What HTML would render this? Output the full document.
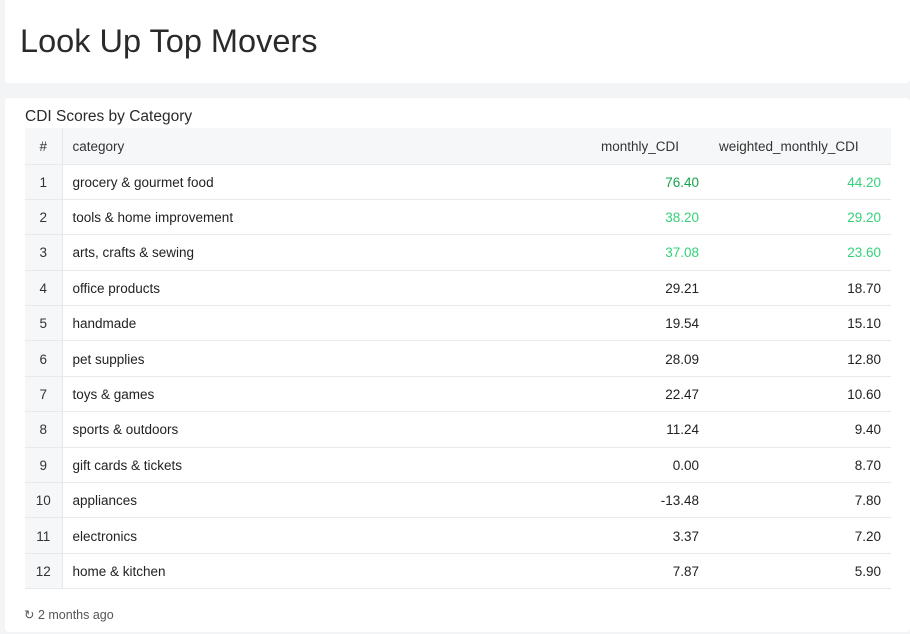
<!DOCTYPE html>
<html><head><meta charset="utf-8"><style>
*{margin:0;padding:0;box-sizing:border-box}
body{width:910px;height:634px;background:#f3f4f6;font-family:"Liberation Sans",sans-serif;color:#222;position:relative;overflow:hidden}
.c1{position:absolute;left:5px;top:0;width:905px;height:83px;background:#fff;border-radius:0 0 4px 4px}
.c1 h1{position:absolute;left:15px;top:23px;font-size:32.5px;font-weight:400;color:#2a2a2a}
.c2{position:absolute;left:5px;top:98px;width:905px;height:534px;background:#fff;border-radius:4px}
.sub{position:absolute;left:20px;top:10px;font-size:15.5px;color:#2a2a2a}
table{position:absolute;left:20px;top:30px;width:866px;border-collapse:collapse;font-size:13.5px;table-layout:fixed}
th,td{height:35.4px;border-bottom:1px solid #e8e9ec;padding:1px 10px 0;text-align:left;font-weight:400;white-space:nowrap}
th{height:36px;background:#f6f7f9;color:#333}
td.n,th.n{width:37px;background:#f6f7f9;text-align:center;border-right:1px solid #e5e7eb;color:#333;padding:1px 0 0}
td.r{text-align:right}
.g1{color:#16a34a}.g2{color:#34d17a}
.foot{position:absolute;left:19px;top:509px;font-size:12.5px;color:#555}
</style></head><body>
<div class="c1"><h1>Look Up Top Movers</h1></div>
<div class="c2"><div class="sub">CDI Scores by Category</div>
<table>
<tr><th class="n">#</th><th>category</th><th style="width:118px">monthly_CDI</th><th style="width:182px">weighted_monthly_CDI</th></tr>
<tr><td class="n">1</td><td>grocery &amp; gourmet food</td><td class="r g1">76.40</td><td class="r g2">44.20</td></tr>
<tr><td class="n">2</td><td>tools &amp; home improvement</td><td class="r g2">38.20</td><td class="r g2">29.20</td></tr>
<tr><td class="n">3</td><td>arts, crafts &amp; sewing</td><td class="r g2">37.08</td><td class="r g2">23.60</td></tr>
<tr><td class="n">4</td><td>office products</td><td class="r">29.21</td><td class="r">18.70</td></tr>
<tr><td class="n">5</td><td>handmade</td><td class="r">19.54</td><td class="r">15.10</td></tr>
<tr><td class="n">6</td><td>pet supplies</td><td class="r">28.09</td><td class="r">12.80</td></tr>
<tr><td class="n">7</td><td>toys &amp; games</td><td class="r">22.47</td><td class="r">10.60</td></tr>
<tr><td class="n">8</td><td>sports &amp; outdoors</td><td class="r">11.24</td><td class="r">9.40</td></tr>
<tr><td class="n">9</td><td>gift cards &amp; tickets</td><td class="r">0.00</td><td class="r">8.70</td></tr>
<tr><td class="n">10</td><td>appliances</td><td class="r">-13.48</td><td class="r">7.80</td></tr>
<tr><td class="n">11</td><td>electronics</td><td class="r">3.37</td><td class="r">7.20</td></tr>
<tr><td class="n">12</td><td>home &amp; kitchen</td><td class="r">7.87</td><td class="r">5.90</td></tr>
</table>
<div class="foot">↻ 2 months ago</div></div>
</body></html>
